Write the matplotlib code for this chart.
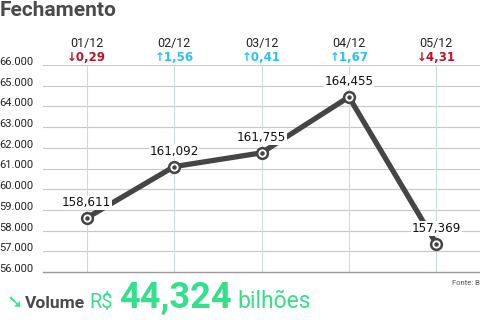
import matplotlib
matplotlib.use('Agg')
import matplotlib.pyplot as plt
import matplotlib.transforms as mtransforms

# dados
dias = ['01/12', '02/12', '03/12', '04/12', '05/12']
fechamento = [158.611, 161.092, 161.755, 164.455, 157.369]
rotulos = ['158,611', '161,092', '161,755', '164,455', '157,369']
variacao = ['0,29', '1,56', '0,41', '1,67', '4,31']
sobe = [False, True, True, True, False]
yticks = [156, 157, 158, 159, 160, 161, 162, 163, 164, 165, 166]
ytick_labels = ['56.000', '57.000', '58.000', '59.000', '60.000', '61.000',
                '62.000', '63.000', '64.000', '65.000', '66.000']

plt.rcParams['font.family'] = ['Roboto', 'DejaVu Sans']

verde = '#35e08c'
vermelho = '#c0142c'
azul = '#2cc3e6'
cinza = '#4a4a4a'

fig = plt.figure(figsize=(4.8, 3.2), dpi=100)
ax = fig.add_axes([43 / 480, 1 - 272 / 320, 1 - 43 / 480, (272 - 65) / 320])
x = list(range(len(dias)))

ax.set_xlim(-0.5, 4.5)
ax.set_ylim(156, 166)
ax.set_yticks(yticks)
ax.set_yticklabels(ytick_labels, fontsize=8, color='#222222')
ax.set_xticks([])
ax.tick_params(axis='y', length=0, pad=7)
off = mtransforms.ScaledTranslation(0, 4 / 100, fig.dpi_scale_trans)
for lbl in ax.get_yticklabels():
  lbl.set_transform(lbl.get_transform() + off)

for s in ['top', 'right', 'left']:
  ax.spines[s].set_visible(False)
ax.spines['bottom'].set_color('#999999')
ax.spines['bottom'].set_linewidth(1)

for t in yticks[1:]:
  ax.axhline(t, color='#c8c8c8', lw=0.8, zorder=0)
for xi in x:
  ax.axvline(xi, color='#c9dcdc', lw=0.8, zorder=0)

ax.plot(x, fechamento, color='#454545', lw=3.8, zorder=2, solid_capstyle='butt')
ax.scatter(x, fechamento, s=60, facecolor='white', edgecolor='#454545', linewidth=1.8, zorder=4)
ax.scatter(x, fechamento, s=5, color='#454545', zorder=5)

for xi, v, r in zip(x, fechamento, rotulos):
  ax.annotate(r, (xi, v), xytext=(0, 11), textcoords='offset points', ha='center', va='center',
              fontsize=9.5, color='#111111', family=['DejaVu Sans'], fontstretch='condensed',
              bbox=dict(boxstyle='square,pad=0.05', fc='white', ec='none'), zorder=3)

for xi, d, var, up in zip(x, dias, variacao, sobe):
  ax.text(xi, 1.105, d, transform=ax.get_xaxis_transform(), ha='center', va='center',
          fontsize=9, color='#222222')
  ax.text(xi, 1.035, ('↑' if up else '↓') + var, transform=ax.get_xaxis_transform(),
          ha='center', va='center', fontsize=8.5, fontweight='bold',
          color=azul if up else vermelho, family=['DejaVu Sans'])

fig.text(0.0, 1 - 11 / 320, 'Fechamento', fontsize=15, fontweight='bold', color=cinza,
         ha='left', va='center')
fig.text(0.999, 1 - 283 / 320, 'Fonte: B', fontsize=5.5, color='#555555', ha='right', va='center')

yb = 1 - 308 / 320
fig.text(7 / 480, yb, '➘', fontsize=14, fontweight='bold', color=verde, ha='left', va='baseline',
         family=['DejaVu Sans'])
fig.text(25 / 480, yb, 'Volume', fontsize=12.5, fontweight='bold', color=cinza, ha='left', va='baseline')
fig.text(89 / 480, yb, 'R$', fontsize=14.5, color=verde, ha='left', va='baseline')
fig.text(119 / 480, yb, '44,324', fontsize=26, fontweight='bold', color=verde, ha='left', va='baseline')
fig.text(237 / 480, yb, 'bilhões', fontsize=16.5, color=verde, ha='left', va='baseline')

fig.savefig('out.png', dpi=100)
